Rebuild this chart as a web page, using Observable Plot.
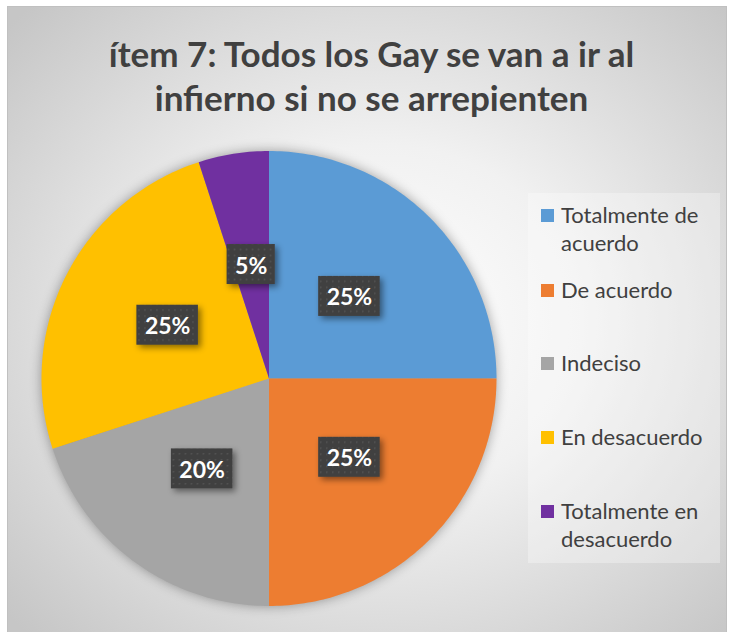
<!DOCTYPE html>
<html>
<head>
<meta charset="utf-8">
<script src="https://cdn.jsdelivr.net/npm/d3@7"></script>
<script src="https://cdn.jsdelivr.net/npm/@observablehq/plot@0.6"></script>
<style>
  body { margin: 0; background: #fff; }
  #wrap { position: relative; width: 733px; height: 632px; background: #fff; overflow: hidden; font-family: Lato, "Open Sans", sans-serif; }
  #panel { position: absolute; left: 7px; top: 6px; width: 718px; height: 628px; border: 1px solid #c0c0c0;
    background: radial-gradient(ellipse 70% 70% at 52% 50%, #ffffff 0%, #f1f1f1 40%, #c6c6c6 100%); }
  #title { position: absolute; left: 0; width: 743px; top: 31px; text-align: center; font-weight: 700; font-size: 35px; line-height: 44px; color: #404040; font-family: Lato, sans-serif; }
  #plot { position: absolute; left: 0; top: 0; }
  #legendBox { position: absolute; left: 528px; top: 193px; width: 192px; height: 370px; background: rgba(255,255,255,0.3); }
  .item { position: absolute; left: 541px; width: 180px; font-size: 22px; line-height: 28px; color: #404040; }
  .item .sw { position: absolute; left: 0; top: 8px; width: 13px; height: 13px; }
  .item .lb { position: absolute; left: 20px; width: 160px; }
</style>
</head>
<body>
<div id="wrap">
  <div id="panel"></div>
  <div id="title"></div>
  <div id="plot"></div>
  <div id="legendBox"></div>
</div>
<script>
const titleLines = ["ítem 7: Todos los Gay se van a ir al", "infierno si no se arrepienten"];
const categories = ["Totalmente de acuerdo", "De acuerdo", "Indeciso", "En desacuerdo", "Totalmente en desacuerdo"];
const values = [25, 25, 20, 25, 5];
const labels = ["25%", "25%", "20%", "25%", "5%"];
const colors = ["#5B9BD5", "#ED7D31", "#A5A5A5", "#FFC000", "#7030A0"];

document.getElementById("title").innerHTML = titleLines.join("<br>");

const pie = d3.pie().sort(null).value(d => d.value)(categories.map((c, i) => ({category: c, value: values[i], label: labels[i]})));

// slice outlines in unit-circle coordinates
const slicePts = [];
pie.forEach(p => {
  const c = p.data.category;
  slicePts.push({category: c, x: 0, y: 0});
  const steps = Math.max(4, Math.ceil((p.endAngle - p.startAngle) / (Math.PI / 180)));
  for (let k = 0; k <= steps; k++) {
    const a = p.startAngle + (p.endAngle - p.startAngle) * k / steps;
    slicePts.push({category: c, x: Math.sin(a), y: Math.cos(a)});
  }
  slicePts.push({category: c, x: 0, y: 0});
});
const labelPts = pie.map(p => {
  const a = (p.startAngle + p.endAngle) / 2;
  return {label: p.data.label, x: 0.5 * Math.sin(a), y: 0.5 * Math.cos(a)};
});

const chart = Plot.plot({
  width: 733, height: 632, margin: 0,
  style: {background: "transparent", overflow: "visible"},
  x: {domain: [-1, 1], range: [41, 496], axis: null},
  y: {domain: [-1, 1], range: [605.5, 150.5], axis: null},
  color: {domain: categories, range: colors},
  marks: [
    Plot.line(slicePts, {x: "x", y: "y", z: "category", fill: "category", stroke: "none", curve: "linear"}),
    Plot.text(labelPts, {x: "x", y: "y", text: "label", fill: "white", fontSize: 23, fontWeight: "bold", fontFamily: "Lato, sans-serif"})
  ]
});
document.getElementById("plot").appendChild(chart);

// shadow on slices
const lineG = chart.querySelector('g[aria-label="line"]');
if (lineG) lineG.style.filter = "drop-shadow(0px 0px 6px rgba(0,0,0,0.35))";

// label boxes
const ns = "http://www.w3.org/2000/svg";
const defs = document.createElementNS(ns, "defs");
defs.innerHTML = `<pattern id="dots" width="6" height="6" patternUnits="userSpaceOnUse">
  <rect width="6" height="6" fill="#404040"/><rect x="1" y="1" width="1.5" height="1.5" fill="#555"/></pattern>
  <filter id="sh" x="-30%" y="-30%" width="160%" height="160%"><feDropShadow dx="3" dy="3" stdDeviation="3" flood-color="#000" flood-opacity="0.45"/></filter>`;
chart.insertBefore(defs, chart.firstChild);
const textG = chart.querySelector('g[aria-label="text"]');
if (textG) {
  const boxG = document.createElementNS(ns, "g");
  textG.parentNode.insertBefore(boxG, textG);
  textG.querySelectorAll("text").forEach(t => {
    const b = t.getBBox();
    const ctm = t.getAttribute("transform");
    const r = document.createElementNS(ns, "rect");
    r.setAttribute("x", b.x - 8); r.setAttribute("y", b.y - 6);
    r.setAttribute("width", b.width + 16); r.setAttribute("height", b.height + 12);
    r.setAttribute("fill", "url(#dots)"); r.setAttribute("filter", "url(#sh)");
    if (ctm) r.setAttribute("transform", ctm);
    boxG.appendChild(r);
  });
}

// legend
const wrap = document.getElementById("wrap");
const tops = [201, 276, 349, 423, 497];
categories.forEach((c, i) => {
  const d = document.createElement("div");
  d.className = "item";
  d.style.top = tops[i] + "px";
  d.innerHTML = `<div class="sw" style="background:${colors[i]}"></div><div class="lb">${c}</div>`;
  wrap.appendChild(d);
});
</script>
</body>
</html>
